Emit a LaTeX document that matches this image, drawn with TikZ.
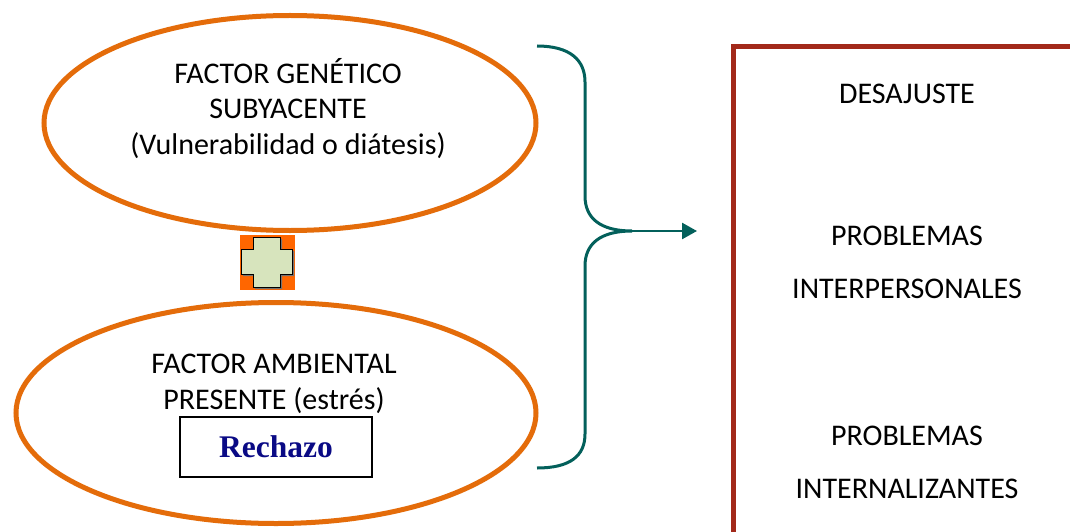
\documentclass[tikz,border=0pt]{standalone}
\usepackage{fontspec}
\setmainfont{Carlito}
\newfontfamily\rechfont{Liberation Serif}
\usetikzlibrary{shapes.geometric,arrows.meta}
\definecolor{ellorange}{HTML}{E46C0A}
\definecolor{plusorange}{HTML}{FF6600}
\definecolor{crossgreen}{HTML}{D7E4BD}
\definecolor{braceteal}{HTML}{03605B}
\definecolor{boxred}{HTML}{A2291A}
\definecolor{rechnavy}{HTML}{0A0A85}
\begin{document}
\begin{tikzpicture}[x=1pt,y=-1pt,
  oval/.style={ellipse, draw=ellorange, line width=5pt, inner sep=0pt},
  txt/.style={anchor=base, inner sep=0pt, text=black, font=\fontsize{30}{35}\selectfont},
  rechbox/.style={draw=black, line width=1.6pt, minimum width=192pt, minimum height=60pt, inner sep=0pt,
     text=rechnavy, font=\rechfont\bfseries\fontsize{31.5}{36}\selectfont},
  bracestyle/.style={draw=braceteal, line width=3pt},
  arrowstyle/.style={draw=braceteal, line width=2.5pt, -{Triangle[length=15pt,width=16pt]}},
  framestyle/.style={draw=boxred, line width=5pt}]
\useasboundingbox (0,0) rectangle (1070,532);
\clip (0,0) rectangle (1070,532);
\fill[white] (0,0) rectangle (1070,532);

% ellipses
\node[oval, minimum width=492pt, minimum height=215pt] (gen) at (290,123) {};
\node[oval, minimum width=520pt, minimum height=221pt] (amb) at (276,413) {};

% texts of top ellipse
\node[txt] (g1) at (288,84) {FACTOR GENÉTICO};
\node[txt] (g2) at (288,119) {SUBYACENTE};
\node[txt] (g3) at (288,154) {(Vulnerabilidad o diátesis)};

% texts of bottom ellipse
\node[txt] (a1) at (274,373) {FACTOR AMBIENTAL};
\node[txt] (a2) at (274,409) {PRESENTE (estrés)};
\node[rechbox] (rech) at (276,447) {Rechazo};

% plus sign
\fill[plusorange] (240,235) rectangle (295,290);
\fill[black!55, shift={(2,2)}] (253,237) -- (280,237) -- (280,249) -- (292,249) -- (292,274) -- (280,274) -- (280,287) -- (253,287) -- (253,274) -- (241,274) -- (241,249) -- (253,249) -- cycle;
\filldraw[fill=crossgreen, draw=black, line width=1pt] (253,237) -- (280,237) -- (280,249) -- (292,249) -- (292,274) -- (280,274) -- (280,287) -- (253,287) -- (253,274) -- (241,274) -- (241,249) -- (253,249) -- cycle;

% brace
\coordinate (bt) at (537,46);
\coordinate (tip) at (632,231);
\coordinate (bb) at (537,468);
\coordinate (ah) at (697,231);
\path[bracestyle] (bt) .. controls (570,46) and (585,60) .. (585,82) -- (585,196)
   .. controls (585,218) and (600,231) .. (tip)
   .. controls (600,231) and (585,244) .. (585,266) -- (585,434)
   .. controls (585,456) and (570,468) .. (bb);
\path[arrowstyle] (tip) -- (ah);

% right frame
\coordinate (fbl) at (733,560);
\coordinate (ftl) at (733,47);
\coordinate (ftr) at (1100,47);
\path[framestyle] (fbl) -- (ftl) -- (ftr);

\node[txt] (r1) at (907,104) {DESAJUSTE};
\node[txt] (r2) at (907,245) {PROBLEMAS};
\node[txt] (r3) at (907,298) {INTERPERSONALES};
\node[txt] (r4) at (907,445) {PROBLEMAS};
\node[txt] (r5) at (907,498) {INTERNALIZANTES};
\end{tikzpicture}
\end{document}
